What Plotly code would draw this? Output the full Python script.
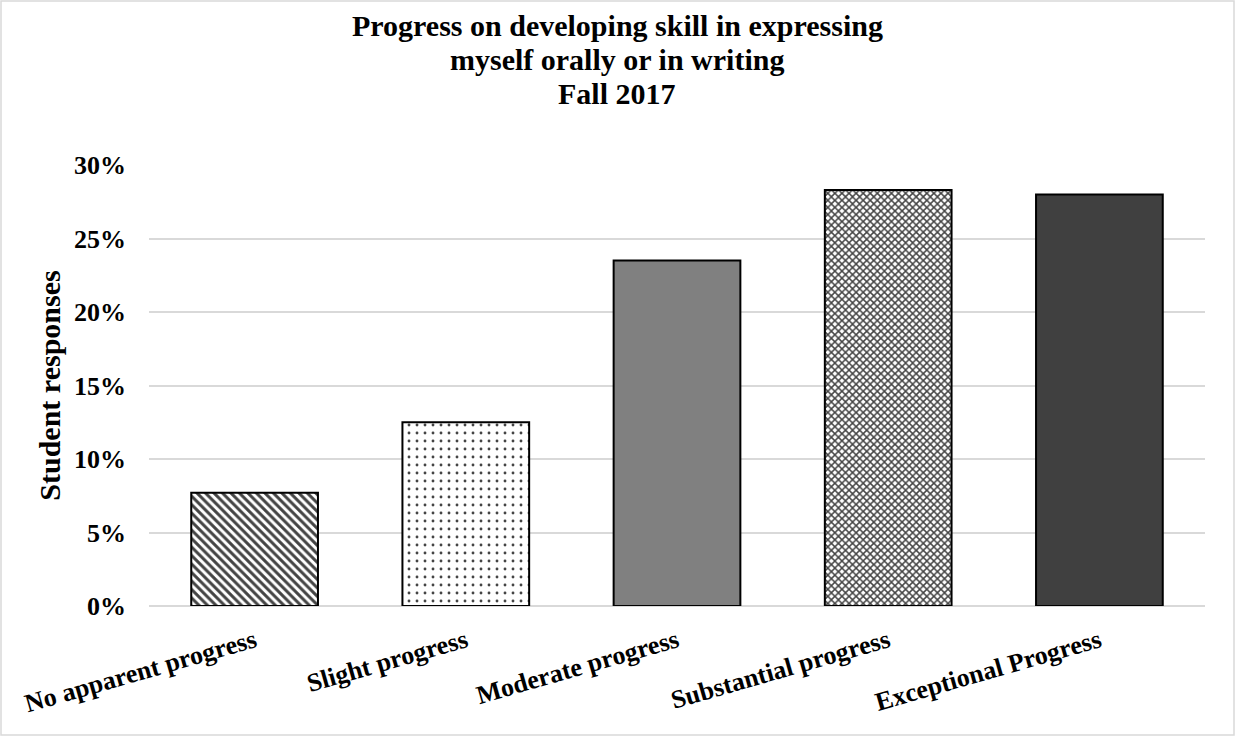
import plotly.graph_objects as go

categories = ["No apparent progress", "Slight progress", "Moderate progress",
              "Substantial progress", "Exceptional Progress"]
shares = [7.7, 12.5, 23.5, 28.3, 28.0]
tick_vals = [0, 5, 10, 15, 20, 25, 30]
tick_text = ["0%", "5%", "10%", "15%", "20%", "25%", "30%"]
title_lines = ["Progress on developing skill in expressing",
               "myself orally or in writing",
               "Fall 2017"]

W, H = 1235, 736
ML, MR, MT, MB = 149, 30, 165, 130
FONT = "Liberation Serif"

fills = ["white", "white", "#808080", "white", "#404040"]
shapes = ["\\", ".", "", "x", ""]
psize = [6, 8, 8, 5, 8]
psolid = [0.5, 0.1, 0.3, 0.5, 0.3]

fig = go.Figure(go.Bar(
    x=categories,
    y=shares,
    width=0.6,
    marker=dict(
        color=fills,
        line=dict(color="black", width=2),
        pattern=dict(shape=shapes, fgcolor="black", bgcolor="white",
                     fgopacity=1, size=psize, solidity=psolid,
                     fillmode="overlay"),
    ),
))

pw = W - ML - MR
ph = H - MT - MB


def paper_x(px):
    return (px - ML) / pw


def paper_y(py):
    return (H - MB - py) / ph


# the title block is centred on the page, one line per annotation
title_rows = [26, 60, 94]
annotations = [
    dict(text=line, xref="paper", yref="paper", x=paper_x(617), y=paper_y(row),
         xanchor="center", yanchor="middle", showarrow=False,
         font=dict(family=FONT, size=30, color="black", weight="bold"))
    for line, row in zip(title_lines, title_rows)
]

fig.update_layout(
    width=W, height=H,
    margin=dict(l=ML, r=MR, t=MT, b=MB),
    plot_bgcolor="white", paper_bgcolor="white",
    showlegend=False,
    bargap=0.4,
    font=dict(family=FONT, color="black"),
    annotations=annotations,
    shapes=[dict(
        type="rect", xref="paper", yref="paper",
        x0=-(ML - 1) / pw, x1=1 + (MR - 1) / pw,
        y0=-(MB - 1) / ph, y1=1 + (MT - 1) / ph,
        line=dict(color="#d9d9d9", width=1.5), layer="below",
    )],
)

fig.update_yaxes(
    range=[0, 30],
    tickvals=tick_vals, ticktext=tick_text,
    tickfont=dict(family=FONT, size=26, color="black", weight="bold"),
    showgrid=True, gridcolor="#d9d9d9", gridwidth=1.5,
    zeroline=True, zerolinecolor="#d9d9d9", zerolinewidth=1.5,
    showline=False, ticks="", ticklabelstandoff=22,
    title=dict(text="Student responses", standoff=4,
               font=dict(family=FONT, size=30, color="black", weight="bold")),
)

fig.update_xaxes(
    tickangle=-16,
    tickfont=dict(family=FONT, size=26, color="black", weight="bold"),
    showline=False, ticks="", showgrid=False, ticklabelstandoff=14,
)

fig.write_html("out.html")
